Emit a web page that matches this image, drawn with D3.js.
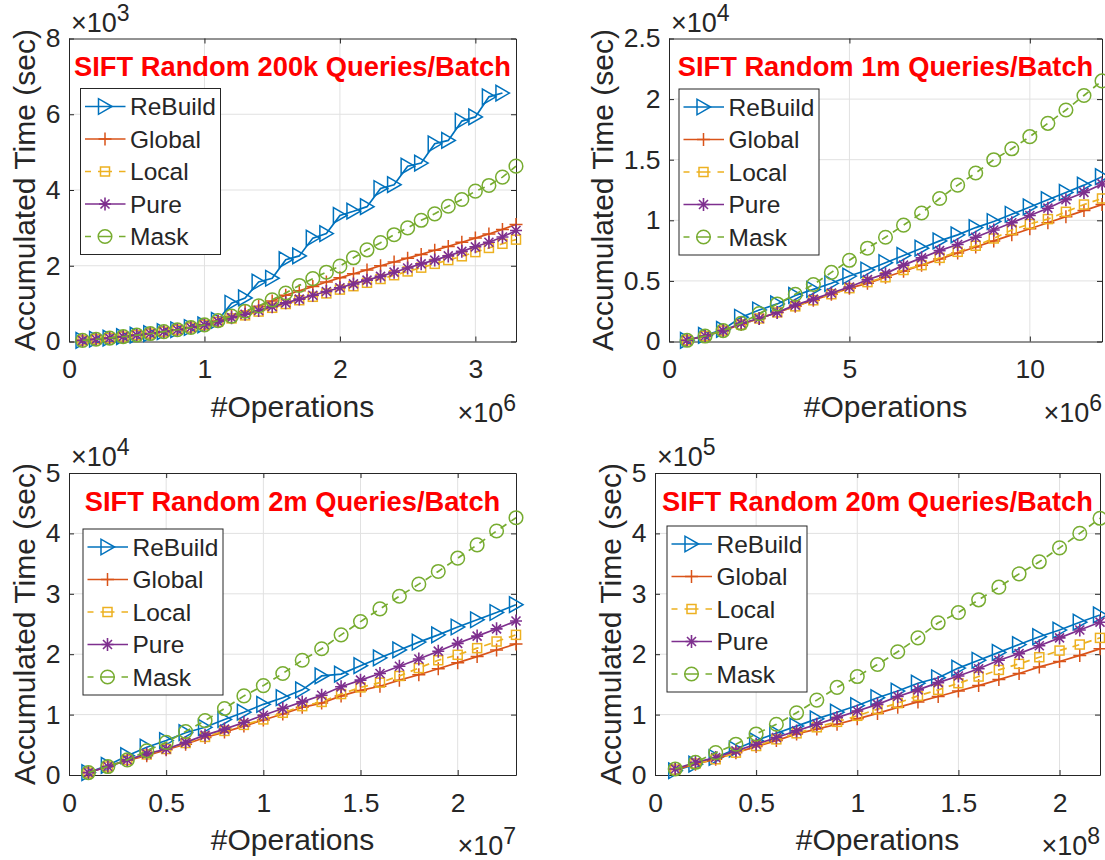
<!DOCTYPE html>
<html>
<head>
<meta charset="utf-8">
<script src="https://cdn.jsdelivr.net/npm/d3@7"></script>
<style>
  body { margin: 0; background: #fff; }
  svg { display: block; }
  text { font-family: "Liberation Sans", Arial, Helvetica, sans-serif; fill: #262626; }
</style>
</head>
<body>
<div id="chart"></div>
<script>
// ---- series meta ----
var seriesNames = ["ReBuild", "Global", "Local", "Pure", "Mask"];
var seriesColors = ["#0072BD", "#D95319", "#EDB120", "#7E2F8E", "#77AC30"];

// ---- panel 1 : 200k queries/batch (x in 1e6 ops, y in 1e3 sec) ----
var p1X = [0.1,0.2,0.3,0.4,0.5,0.6,0.7,0.8,0.9,1.0,1.1,1.2,1.3,1.4,1.5,1.6,1.7,1.8,1.9,2.0,2.1,2.2,2.3,2.4,2.5,2.6,2.7,2.8,2.9,3.0,3.1,3.2,3.3];
var p1ReBuild = [0.03,0.06,0.09,0.13,0.17,0.21,0.26,0.31,0.37,0.44,0.56,1.01,1.15,1.57,1.67,2.16,2.26,2.73,2.85,3.33,3.44,3.56,4.04,4.14,4.63,4.71,5.22,5.31,5.82,5.93,6.46,6.56];
var p1Global = [0.03,0.06,0.09,0.13,0.17,0.21,0.26,0.31,0.37,0.44,0.54,0.66,0.79,0.93,1.07,1.22,1.34,1.45,1.57,1.68,1.79,1.89,2.0,2.1,2.2,2.3,2.41,2.51,2.62,2.73,2.84,2.96,3.09];
var p1Local = [0.03,0.06,0.09,0.13,0.17,0.21,0.26,0.31,0.37,0.44,0.52,0.61,0.69,0.79,0.89,0.99,1.09,1.18,1.27,1.37,1.46,1.55,1.65,1.75,1.85,1.95,2.05,2.15,2.25,2.36,2.47,2.58,2.69];
var p1Pure = [0.03,0.06,0.09,0.13,0.17,0.21,0.26,0.31,0.37,0.44,0.53,0.63,0.72,0.82,0.92,1.02,1.12,1.22,1.32,1.42,1.52,1.62,1.72,1.83,1.94,2.05,2.15,2.26,2.38,2.5,2.62,2.76,2.93];
var p1Mask = [0.03,0.06,0.09,0.13,0.17,0.21,0.26,0.31,0.37,0.44,0.55,0.67,0.8,0.94,1.1,1.28,1.48,1.66,1.83,1.99,2.21,2.42,2.61,2.82,3.0,3.2,3.37,3.57,3.75,3.97,4.12,4.34,4.63];

// ---- panel 2 : 1m queries/batch (x in 1e6, y in 1e4) ----
var p2X = [0.5,1,1.5,2,2.5,3,3.5,4,4.5,5,5.5,6,6.5,7,7.5,8,8.5,9,9.5,10,10.5,11,11.5,12];
var p2ReBuild = [0.01,0.05,0.1,0.2,0.26,0.31,0.38,0.43,0.48,0.54,0.59,0.65,0.71,0.77,0.83,0.88,0.94,0.99,1.05,1.11,1.17,1.23,1.29,1.36];
var p2Global = [0.01,0.045,0.09,0.14,0.19,0.24,0.29,0.34,0.39,0.44,0.48,0.53,0.58,0.63,0.68,0.73,0.78,0.83,0.88,0.93,0.98,1.03,1.08,1.13];
var p2Local = [0.01,0.045,0.09,0.14,0.19,0.24,0.29,0.34,0.39,0.44,0.49,0.53,0.59,0.63,0.69,0.74,0.79,0.85,0.92,0.97,1.01,1.07,1.13,1.18];
var p2Pure = [0.01,0.045,0.09,0.15,0.19,0.24,0.3,0.35,0.4,0.45,0.51,0.56,0.63,0.69,0.75,0.8,0.86,0.92,0.98,1.04,1.1,1.17,1.23,1.3];
var p2Mask = [0.01,0.045,0.09,0.15,0.23,0.31,0.39,0.47,0.57,0.67,0.77,0.86,0.96,1.06,1.18,1.29,1.39,1.5,1.59,1.69,1.8,1.91,2.03,2.15];

// ---- panel 3 : 2m queries/batch (x in 1e7, y in 1e4) ----
var p3X = [0.1,0.2,0.3,0.4,0.5,0.6,0.7,0.8,0.9,1.0,1.1,1.2,1.3,1.4,1.5,1.6,1.7,1.8,1.9,2.0,2.1,2.2,2.3];
var p3ReBuild = [0.04,0.16,0.32,0.46,0.57,0.7,0.79,0.92,1.04,1.17,1.28,1.41,1.64,1.67,1.81,1.94,2.07,2.2,2.32,2.45,2.57,2.69,2.82];
var p3Global = [0.04,0.14,0.24,0.32,0.42,0.51,0.62,0.71,0.81,0.91,1.01,1.12,1.19,1.31,1.4,1.47,1.57,1.66,1.76,1.86,1.96,2.07,2.17];
var p3Local = [0.04,0.14,0.25,0.34,0.43,0.53,0.63,0.73,0.83,0.92,1.03,1.14,1.21,1.34,1.45,1.53,1.64,1.77,1.9,1.99,2.1,2.21,2.32];
var p3Pure = [0.04,0.14,0.25,0.35,0.43,0.54,0.66,0.76,0.87,0.99,1.1,1.21,1.32,1.46,1.57,1.68,1.8,1.92,2.05,2.18,2.3,2.42,2.55];
var p3Mask = [0.04,0.14,0.25,0.4,0.54,0.72,0.9,1.1,1.31,1.48,1.68,1.9,2.09,2.32,2.54,2.75,2.96,3.16,3.37,3.59,3.81,4.04,4.26];

// ---- panel 4 : 20m queries/batch (x in 1e8, y in 1e5) ----
var p4X = [0.1,0.2,0.3,0.4,0.5,0.6,0.7,0.8,0.9,1.0,1.1,1.2,1.3,1.4,1.5,1.6,1.7,1.8,1.9,2.0,2.1,2.2];
var p4ReBuild = [0.07,0.18,0.29,0.43,0.57,0.69,0.81,0.93,1.04,1.15,1.28,1.39,1.52,1.61,1.77,1.9,2.03,2.16,2.29,2.4,2.53,2.65];
var p4Global = [0.09,0.18,0.26,0.37,0.47,0.57,0.68,0.76,0.84,0.93,1.02,1.12,1.21,1.3,1.39,1.48,1.58,1.68,1.79,1.88,1.98,2.09];
var p4Local = [0.09,0.19,0.26,0.37,0.48,0.59,0.69,0.79,0.88,0.98,1.09,1.19,1.31,1.41,1.52,1.63,1.74,1.84,1.95,2.06,2.16,2.27];
var p4Pure = [0.1,0.21,0.29,0.4,0.51,0.62,0.73,0.84,0.95,1.06,1.17,1.3,1.41,1.53,1.64,1.76,1.9,2.01,2.14,2.27,2.4,2.53];
var p4Mask = [0.1,0.21,0.37,0.51,0.68,0.84,1.03,1.24,1.45,1.63,1.83,2.04,2.27,2.52,2.69,2.9,3.11,3.33,3.53,3.76,4.0,4.25];

// ---- ticks / titles ----
var titles = ["SIFT Random 200k Queries/Batch", "SIFT Random 1m Queries/Batch", "SIFT Random 2m Queries/Batch", "SIFT Random 20m Queries/Batch"];
var xTicks = [[0,1,2,3], [0,5,10], [0,0.5,1,1.5,2], [0,0.5,1,1.5,2]];
var yTicks = [[0,2,4,6,8], [0,0.5,1,1.5,2,2.5], [0,1,2,3,4,5], [0,1,2,3,4,5]];
var xMax = [3.3, 12, 2.3, 2.2];
var yMax = [8, 2.5, 5, 5];
var xExp = ["6", "6", "7", "8"];
var yExp = ["3", "4", "4", "5"];

var panelData = [
    { x: p1X, ys: [p1ReBuild, p1Global, p1Local, p1Pure, p1Mask] },
    { x: p2X, ys: [p2ReBuild, p2Global, p2Local, p2Pure, p2Mask] },
    { x: p3X, ys: [p3ReBuild, p3Global, p3Local, p3Pure, p3Mask] },
    { x: p4X, ys: [p4ReBuild, p4Global, p4Local, p4Pure, p4Mask] }
];

// plot box of each panel (pixels) and legend top-left corner
var boxes = [
    { l: 69,  r: 516,  t: 38.5, b: 341.5, lgX: 80.5, lgY: 88.5 },
    { l: 669, r: 1102, t: 38.5, b: 341.5, lgX: 679,  lgY: 89 },
    { l: 69,  r: 516,  t: 473,  b: 775,   lgX: 83,   lgY: 529 },
    { l: 655, r: 1100, t: 473,  b: 775,   lgX: 667,  lgY: 526 }
];

var dashes = [null, null, "7,6", null, "7,6"];
// legend sample: dash, gap, dash under the marker, gap, dash
var legendDashes = [null, null, "6,7,14,7,6.5", null, "6,7,14,7,6.5"];
var axisColor = "#262626";
var gridColor = "#e1e1e1";

var svg = d3.select("#chart").append("svg")
    .attr("width", 1105)
    .attr("height", 860);

function drawMarker(sel, kind, color) {
    if (kind === 0) {          // right triangle
        sel.append("path").attr("d", "M7,0L-6.5,-7.8L-6.5,7.8Z")
            .attr("fill", "none").attr("stroke", color).attr("stroke-width", 1.5);
    } else if (kind === 1) {   // plus
        sel.append("path").attr("d", "M-6.5,0H6.5M0,-6.5V6.5")
            .attr("stroke", color).attr("stroke-width", 1.5);
    } else if (kind === 2) {   // square
        sel.append("rect").attr("x", -4.5).attr("y", -4.5).attr("width", 9).attr("height", 9)
            .attr("fill", "none").attr("stroke", color).attr("stroke-width", 1.5);
    } else if (kind === 3) {   // asterisk
        sel.append("path").attr("d", "M-6,0H6M0,-6.5V6.5M-4.5,-4.5L4.5,4.5M-4.5,4.5L4.5,-4.5")
            .attr("stroke", color).attr("stroke-width", 1.6);
    } else {                   // circle
        sel.append("circle").attr("r", 6.8)
            .attr("fill", "none").attr("stroke", color).attr("stroke-width", 1.5);
    }
}

boxes.forEach(function(bx, pi) {
    var d = panelData[pi];
    var x = d3.scaleLinear().domain([0, xMax[pi]]).range([bx.l, bx.r]);
    var y = d3.scaleLinear().domain([0, yMax[pi]]).range([bx.b, bx.t]);
    var g = svg.append("g");

    // grid
    g.append("g").selectAll("line").data(xTicks[pi].filter(function(v) { return v > 0; }))
        .enter().append("line")
        .attr("x1", function(v) { return x(v); }).attr("x2", function(v) { return x(v); })
        .attr("y1", bx.t).attr("y2", bx.b)
        .attr("stroke", gridColor).attr("stroke-width", 1);
    g.append("g").selectAll("line").data(yTicks[pi].filter(function(v) { return v > 0 && v < yMax[pi]; }))
        .enter().append("line")
        .attr("y1", function(v) { return y(v); }).attr("y2", function(v) { return y(v); })
        .attr("x1", bx.l).attr("x2", bx.r)
        .attr("stroke", gridColor).attr("stroke-width", 1);

    // axes (ticks pointing inwards, box on)
    var fmt = d3.format("~g");
    g.append("g").attr("transform", "translate(0," + bx.b + ")")
        .call(d3.axisBottom(x).tickValues(xTicks[pi]).tickFormat(fmt).tickSizeInner(-5).tickSizeOuter(0).tickPadding(18));
    var ay = g.append("g").attr("transform", "translate(" + bx.l + ",0)")
        .call(d3.axisLeft(y).tickValues(yTicks[pi]).tickFormat(fmt).tickSizeInner(-5).tickSizeOuter(0).tickPadding(8.5));
    g.append("g").attr("transform", "translate(0," + bx.t + ")")
        .call(d3.axisTop(x).tickValues(xTicks[pi]).tickFormat("").tickSizeInner(-5).tickSizeOuter(0));
    g.append("g").attr("transform", "translate(" + bx.r + ",0)")
        .call(d3.axisRight(y).tickValues(yTicks[pi]).tickFormat("").tickSizeInner(-5).tickSizeOuter(0));
    g.selectAll(".domain, .tick line").attr("stroke", axisColor).attr("stroke-width", 1);
    g.selectAll(".tick text").attr("fill", axisColor).style("font-size", "26.5px");

    // clip region
    var clipId = "clip" + pi;
    svg.append("clipPath").attr("id", clipId).append("rect")
        .attr("x", bx.l).attr("y", bx.t).attr("width", bx.r - bx.l).attr("height", bx.b - bx.t);

    // series
    d.ys.forEach(function(vals, si) {
        var pts = vals.map(function(v, i) { return [d.x[i], v]; });
        var line = d3.line().x(function(p) { return x(p[0]); }).y(function(p) { return y(p[1]); });
        g.append("path").datum(pts)
            .attr("d", line)
            .attr("fill", "none")
            .attr("stroke", seriesColors[si])
            .attr("stroke-width", 1.7)
            .attr("stroke-dasharray", dashes[si])
            .attr("clip-path", "url(#" + clipId + ")");
        g.append("g").selectAll("g").data(pts).enter().append("g")
            .attr("transform", function(p) { return "translate(" + x(p[0]) + "," + y(p[1]) + ")"; })
            .each(function() { drawMarker(d3.select(this), si, seriesColors[si]); });
    });

    // panel title inside the axes
    g.append("text")
        .attr("x", (bx.l + bx.r) / 2)
        .attr("y", bx.t + 37.5)
        .attr("text-anchor", "middle")
        .style("font-size", "27.3px")
        .style("font-weight", "bold")
        .style("fill", "#ff0000")
        .text(titles[pi]);

    // exponent labels
    var ey = g.append("text").attr("x", bx.l + 2).attr("y", bx.t - 7).style("font-size", "27px");
    ey.append("tspan").text("\u00d710");
    ey.append("tspan").attr("dy", -11).style("font-size", "23px").text(yExp[pi]);
    var ex = g.append("text").attr("x", bx.r).attr("y", bx.b + 80).attr("text-anchor", "end").style("font-size", "27px");
    ex.append("tspan").text("\u00d710");
    ex.append("tspan").attr("dy", -11).style("font-size", "23px").text(xExp[pi]);

    // axis labels
    g.append("text")
        .attr("x", (bx.l + bx.r) / 2)
        .attr("y", bx.b + 75)
        .attr("text-anchor", "middle")
        .style("font-size", "30px")
        .text("#Operations");
    var maxW = 0;
    ay.selectAll(".tick text").each(function() { maxW = Math.max(maxW, this.getComputedTextLength()); });
    var ly = bx.l - 8.5 - maxW - 11;
    g.append("text")
        .attr("transform", "translate(" + ly + "," + ((bx.t + bx.b) / 2) + ") rotate(-90)")
        .attr("text-anchor", "middle")
        .style("font-size", "30px")
        .text("Accumulated Time (sec)");

    // legend
    var lg = g.append("g").attr("transform", "translate(" + bx.lgX + "," + bx.lgY + ")");
    lg.append("rect").attr("width", 140).attr("height", 166)
        .attr("fill", "#fff").attr("stroke", axisColor).attr("stroke-width", 1);
    seriesNames.forEach(function(name, si) {
        var row = lg.append("g").attr("transform", "translate(0," + (18 + si * 32.5) + ")");
        row.append("line").attr("x1", 4.5).attr("x2", 45)
            .attr("stroke", seriesColors[si]).attr("stroke-width", 1.7)
            .attr("stroke-dasharray", legendDashes[si]);
        drawMarker(row.append("g").attr("transform", "translate(24.5,0)"), si, seriesColors[si]);
        row.append("text").attr("x", 49.5).attr("y", 8.7).style("font-size", "24.5px").text(name);
    });
});
</script>
</body>
</html>
